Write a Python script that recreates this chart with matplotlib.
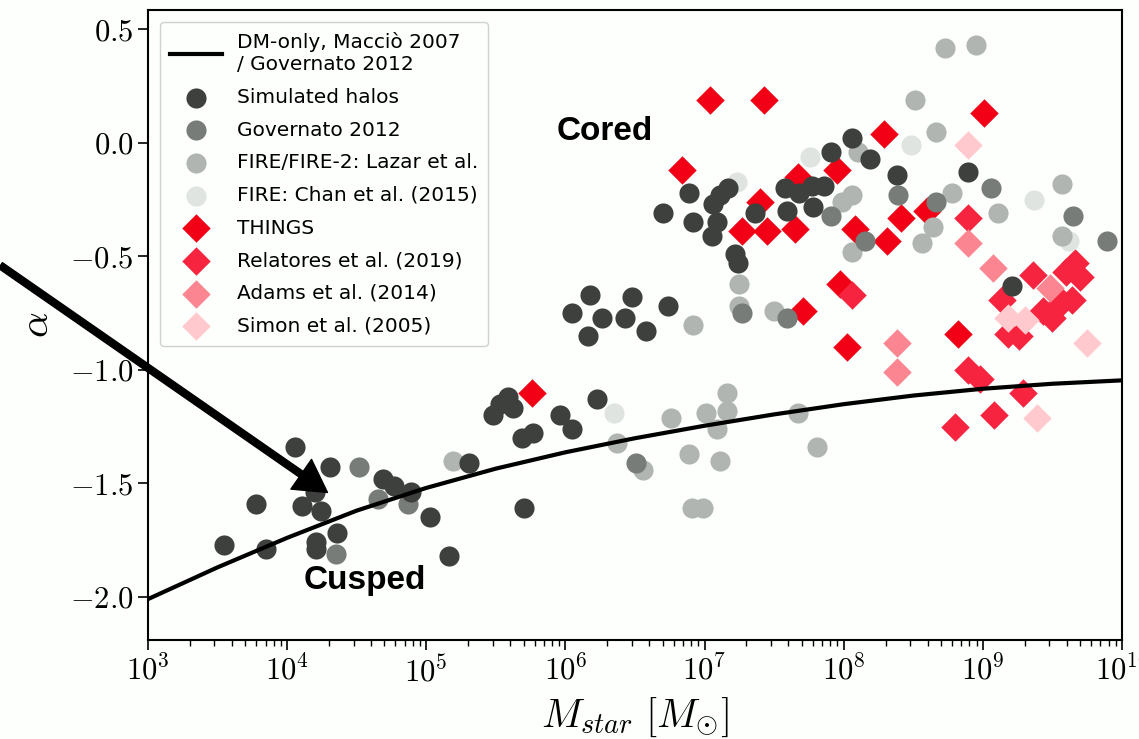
import numpy as np
import matplotlib
matplotlib.use('Agg')
import matplotlib.pyplot as plt

plt.rcParams['font.family'] = 'serif'
plt.rcParams['font.serif'] = ['cmr10']
plt.rcParams['mathtext.fontset'] = 'cm'
plt.rcParams['axes.formatter.use_mathtext'] = True

# DM-only relation (log10 M_star, inner slope)
curve_logm = [3.0, 3.5, 4.0, 4.5, 5.0, 5.5, 6.0, 6.5, 7.0, 7.5, 8.0, 8.5, 9.0, 9.5, 10.0]
curve_alpha = [-2.01, -1.87, -1.74, -1.62, -1.52, -1.435, -1.363, -1.301, -1.246, -1.196,
               -1.151, -1.113, -1.083, -1.061, -1.046]

# simulated halos
sim_logm = [4.06, 4.31, 3.78, 4.11, 4.24, 4.20, 4.69, 4.77, 4.89, 5.03, 4.36, 4.21, 4.21,
            3.55, 3.85, 5.16, 5.31, 5.48, 5.53, 5.59, 5.62, 5.69, 5.77, 5.96, 6.05, 6.23,
            5.70, 6.05, 6.18, 6.26, 6.16, 6.43, 6.48, 6.58, 6.74, 6.70, 6.89, 6.92, 7.06,
            7.11, 7.17, 7.09, 7.05, 7.22, 7.24, 7.36, 7.58, 7.59, 7.68, 7.77, 7.78, 7.86,
            7.91, 8.06, 8.19, 8.38, 8.89, 9.21]
sim_alpha = [-1.34, -1.43, -1.59, -1.60, -1.62, -1.54, -1.48, -1.51, -1.54, -1.65, -1.72,
             -1.76, -1.79, -1.77, -1.79, -1.82, -1.41, -1.20, -1.15, -1.12, -1.17, -1.30,
             -1.28, -1.20, -1.26, -1.13, -1.61, -0.75, -0.67, -0.77, -0.85, -0.77, -0.68,
             -0.83, -0.72, -0.31, -0.22, -0.35, -0.27, -0.23, -0.20, -0.35, -0.41, -0.49,
             -0.53, -0.31, -0.20, -0.30, -0.22, -0.19, -0.28, -0.19, -0.04, 0.02, -0.07,
             -0.14, -0.13, -0.63]

gov_logm = [4.52, 4.65, 4.87, 4.35, 6.51, 7.27, 7.59, 7.91, 8.15, 8.39, 8.66, 9.06, 9.65, 9.89]
gov_alpha = [-1.43, -1.57, -1.59, -1.81, -1.41, -0.75, -0.77, -0.32, -0.43, -0.23, -0.26,
             -0.20, -0.32, -0.43]

lazar_logm = [5.19, 6.37, 6.56, 6.76, 6.89, 6.91, 6.99, 7.01, 7.09, 7.16, 7.16, 7.11, 7.67,
              7.81, 6.92, 7.25, 7.25, 7.50, 7.99, 8.06, 8.06, 8.10, 8.51, 8.66, 8.73, 8.95,
              8.78, 9.11, 8.64, 8.56, 9.57, 9.57]
lazar_alpha = [-1.40, -1.32, -1.44, -1.21, -1.37, -1.61, -1.61, -1.19, -1.26, -1.10, -1.18,
               -1.40, -1.19, -1.34, -0.80, -0.62, -0.72, -0.74, -0.26, -0.23, -0.48, -0.04,
               0.19, 0.05, 0.42, 0.43, -0.22, -0.31, -0.37, -0.44, -0.18, -0.41]

chan_logm = [6.35, 7.23, 7.76, 8.48, 9.37, 9.62]
chan_alpha = [-1.19, -0.17, -0.06, -0.01, -0.25, -0.43]

# observed galaxies
things_logm = [5.76, 6.84, 7.04, 7.43, 7.27, 7.40, 7.45, 7.65, 7.67, 7.95, 8.08, 8.31,
               8.29, 9.01, 8.41, 8.60, 7.71, 7.97, 8.02, 8.82]
things_alpha = [-1.10, -0.12, 0.19, 0.19, -0.39, -0.26, -0.39, -0.38, -0.15, -0.12, -0.38,
                -0.43, 0.04, 0.13, -0.33, -0.30, -0.74, -0.62, -0.90, -0.84]

rel_logm = [8.06, 8.89, 8.89, 8.98, 9.29, 8.80, 9.08, 9.14, 9.36, 9.60, 9.66, 9.70, 9.64,
            9.43, 9.50, 9.57, 9.18, 9.26]
rel_alpha = [-0.67, -0.33, -1.00, -1.04, -1.10, -1.25, -1.20, -0.69, -0.58, -0.57, -0.53,
             -0.59, -0.69, -0.74, -0.77, -0.70, -0.84, -0.85]

adams_logm = [8.38, 8.38, 8.89, 9.07, 9.48]
adams_alpha = [-0.88, -1.01, -0.44, -0.55, -0.64]

simon_logm = [8.89, 9.75, 9.39, 9.18, 9.30]
simon_alpha = [-0.01, -0.88, -1.21, -0.77, -0.78]

bg = '#fcfffc'
fig = plt.figure(figsize=(11.39, 7.39), dpi=100)
fig.patch.set_facecolor(bg)
ax = fig.add_axes([0.1299, 0.134, 0.8552, 0.8525])
ax.set_facecolor(bg)

ms = 210
things = ax.scatter(10**np.array(things_logm), things_alpha, s=ms, marker='D', c='#f20016',
                    lw=0, label='THINGS', zorder=2)
rel = ax.scatter(10**np.array(rel_logm), rel_alpha, s=ms, marker='D', c='#f7243f',
                 lw=0, label='Relatores et al. (2019)', zorder=2)
adams = ax.scatter(10**np.array(adams_logm), adams_alpha, s=ms, marker='D', c='#fb8590',
                   lw=0, label='Adams et al. (2014)', zorder=2)
simon = ax.scatter(10**np.array(simon_logm), simon_alpha, s=ms, marker='D', c='#ffc9cd',
                   lw=0, label='Simon et al. (2005)', zorder=2)
chan = ax.scatter(10**np.array(chan_logm), chan_alpha, s=ms, c='#e0e4e0', lw=0,
                  label='FIRE: Chan et al. (2015)', zorder=3)
lazar = ax.scatter(10**np.array(lazar_logm), lazar_alpha, s=ms, c='#b1b5b1', lw=0,
                   label='FIRE/FIRE-2: Lazar et al.', zorder=3)
gov = ax.scatter(10**np.array(gov_logm), gov_alpha, s=ms, c='#787c78', lw=0,
                 label='Governato 2012', zorder=3)
sim = ax.scatter(10**np.array(sim_logm), sim_alpha, s=ms, c='#3d403d', lw=0,
                 label='Simulated halos', zorder=3)
line, = ax.plot(10**np.array(curve_logm), curve_alpha, color='black', lw=3.0,
                label='DM-only, Macciò 2007\n/ Governato 2012', zorder=4)

ax.set_xscale('log')
ax.set_xlim(1e3, 1e10)
ax.set_ylim(-2.19, 0.586)
ax.set_yticks([-2.0, -1.5, -1.0, -0.5, 0.0, 0.5])
ax.tick_params(axis='both', which='major', labelsize=22, length=7, width=1.2)
ax.tick_params(axis='x', which='minor', length=4, width=1)
for sp in ax.spines.values():
    sp.set_linewidth(1.5)

ax.set_xlabel(r'$M_{star}\ [M_{\odot}]$', fontsize=29, labelpad=6)
ax.set_ylabel(r'$\alpha$', fontsize=29, labelpad=10)

ax.text(10**6.28, 0.05, 'Cored', family='Liberation Sans', weight='bold', fontsize=24,
        ha='center', va='center', zorder=5)
ax.text(10**4.56, -1.93, 'Cusped', family='Liberation Sans', weight='bold', fontsize=24,
        ha='center', va='center', zorder=5)

# arrow pointing into the cusped region
ax.annotate('', xy=(10**4.29, -1.54), xytext=(10**1.94, -0.54),
            arrowprops=dict(facecolor='black', edgecolor='black', width=5, headwidth=26,
                            headlength=23, shrink=0),
            annotation_clip=False, zorder=6)

leg = ax.legend(handles=[line, sim, gov, lazar, chan, things, rel, adams, simon],
                loc='upper left', prop={'family': 'DejaVu Sans', 'size': 14.5},
                labelspacing=0.68, handlelength=2.6, handletextpad=0.7,
                borderaxespad=0.6, borderpad=0.5, framealpha=1, edgecolor='#d0d0d0')
leg.get_frame().set_facecolor(bg)
leg.set_zorder(7)

fig.savefig('out.png', dpi=100, facecolor=fig.get_facecolor())
